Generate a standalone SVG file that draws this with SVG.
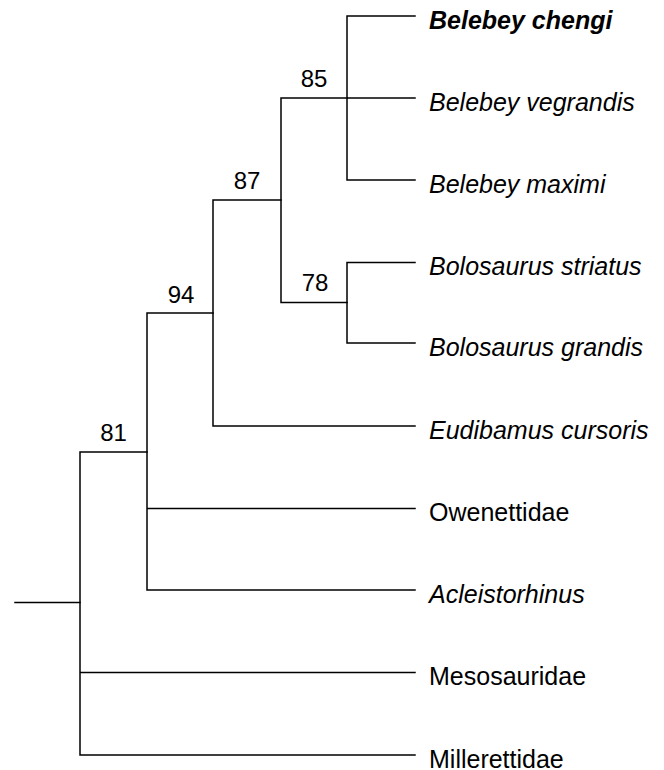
<svg xmlns="http://www.w3.org/2000/svg" width="664" height="770" viewBox="0 0 664 770">
<style>
.br{fill:none;stroke:#000;stroke-width:1.5;stroke-linecap:square}
.lf{font-family:"Liberation Sans",Arial,sans-serif;font-size:25px;fill:#000}
.it{font-style:italic}
.bd{font-weight:bold}
.bs{font-family:"Liberation Sans",Arial,sans-serif;font-size:24px;fill:#000;text-anchor:middle}
</style>
<rect width="664" height="770" fill="#fff"/>
<g id="connectors">
<path class="br" d="M15,602.5H80"/>
<path class="br" d="M80,452V755M80,452H147M80,672.5H415M80,755H415"/>
<path class="br" d="M147,313V590M147,313H213M147,508.5H415M147,590H415"/>
<path class="br" d="M213,200V426M213,200H281M213,426H415"/>
<path class="br" d="M281,98V302.5M281,98H347M281,302.5H347"/>
<path class="br" d="M347,16V180M347,16H415M347,98H415M347,180H415"/>
<path class="br" d="M347,262.5V343M347,262.5H415M347,343H415"/>
</g>
<g id="support">
<text class="bs" x="314" y="87">85</text>
<text class="bs" x="247" y="189">87</text>
<text class="bs" x="315" y="291">78</text>
<text class="bs" x="181" y="303">94</text>
<text class="bs" x="113.5" y="441">81</text>
</g>
<g id="n-chengi"><text class="lf it bd" x="429" y="28.5">Belebey chengi</text></g>
<g id="n-vegrandis"><text class="lf it" x="429" y="110.5">Belebey vegrandis</text></g>
<g id="n-maximi"><text class="lf it" x="429" y="192.5">Belebey maximi</text></g>
<g id="n-striatus"><text class="lf it" x="429" y="275">Bolosaurus striatus</text></g>
<g id="n-grandis"><text class="lf it" x="429" y="355.5">Bolosaurus grandis</text></g>
<g id="n-eudibamus"><text class="lf it" x="429" y="438.5">Eudibamus cursoris</text></g>
<g id="n-owenettidae"><text class="lf" x="429" y="521">Owenettidae</text></g>
<g id="n-acleistorhinus"><text class="lf it" x="429" y="602.5">Acleistorhinus</text></g>
<g id="n-mesosauridae"><text class="lf" x="429" y="685">Mesosauridae</text></g>
<g id="n-millerettidae"><text class="lf" x="429" y="767.5">Millerettidae</text></g>
</svg>
